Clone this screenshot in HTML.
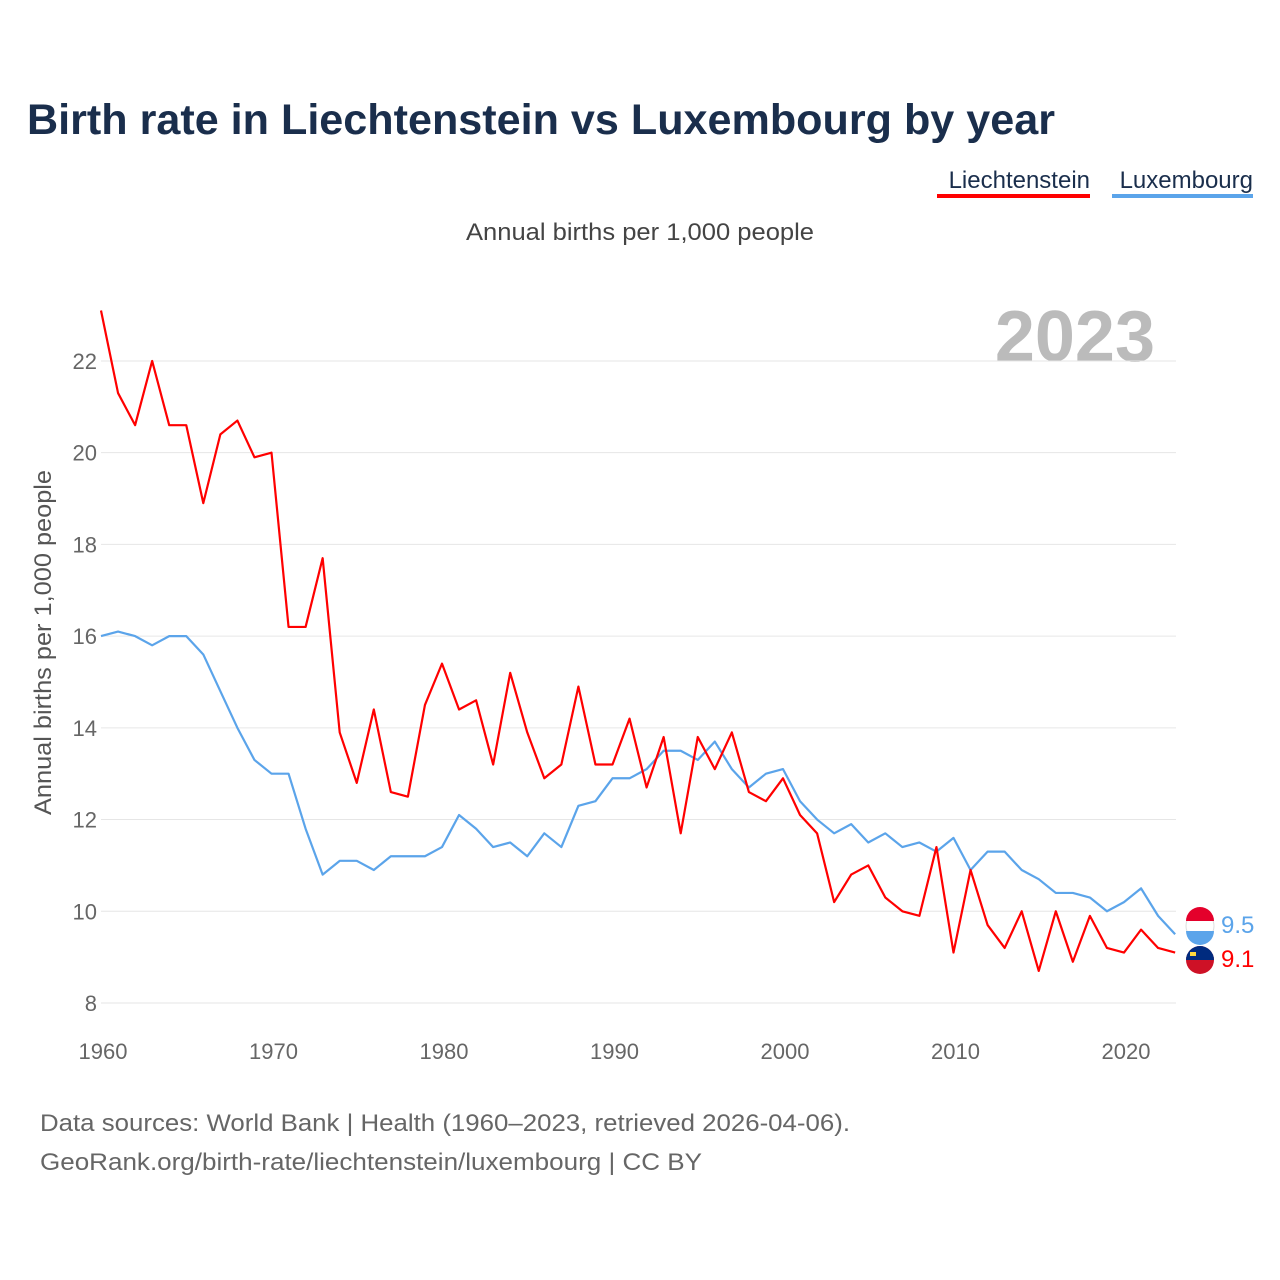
<!DOCTYPE html>
<html><head><meta charset="utf-8"><style>
body{margin:0;background:#fff;font-family:"Liberation Sans",sans-serif;}
svg{display:block}
</style></head><body>
<svg id="chart" width="1280" height="1280" viewBox="0 0 1280 1280">
<text x="27" y="134" font-size="43" font-weight="bold" fill="#1a2e4c" textLength="1028" lengthAdjust="spacingAndGlyphs">Birth rate in Liechtenstein vs Luxembourg by year</text>
<g>
<text x="1090" y="188" font-size="24" fill="#1a2e4c" text-anchor="end">Liechtenstein</text>
<rect x="937" y="194" width="153" height="4" fill="#f00"/>
<text x="1253" y="188" font-size="24" fill="#1a2e4c" text-anchor="end">Luxembourg</text>
<rect x="1112" y="194" width="141" height="4" fill="#5ba4ea"/>
</g>
<text x="466" y="240" font-size="24" fill="#444" textLength="348" lengthAdjust="spacingAndGlyphs">Annual births per 1,000 people</text>
<text x="1155" y="361" font-size="72" font-weight="bold" fill="#bbb" text-anchor="end">2023</text>
<text transform="translate(51,815) rotate(-90)" font-size="24" fill="#555" textLength="345" lengthAdjust="spacingAndGlyphs">Annual births per 1,000 people</text>
<g id="grid"></g><g id="lines"></g>
<g>
<circle cx="1200" cy="926" r="14" fill="#fff" stroke="#ddd"/>
<path d="M1186 921 h28 a14 14 0 0 0 -28 0z" fill="#e4002b"/>
<path d="M1186 931 h28 a14 14 0 0 1 -28 0z" fill="#5ba4ea"/>
<circle cx="1200" cy="960" r="14" fill="#ce1126"/>
<path d="M1186 960 h28 a14 14 0 0 0 -28 0z" fill="#002b7f"/>
<rect x="1190" y="952" width="6" height="4" fill="#ffd83d"/>
<text x="1221" y="933" font-size="24" fill="#5ba4ea">9.5</text>
<text x="1221" y="967" font-size="24" fill="#f00">9.1</text>
</g>
<text x="40" y="1131" font-size="24" fill="#666" textLength="810" lengthAdjust="spacingAndGlyphs">Data sources: World Bank | Health (1960–2023, retrieved 2026-04-06).</text>
<text x="40" y="1170" font-size="24" fill="#666" textLength="662" lengthAdjust="spacingAndGlyphs">GeoRank.org/birth-rate/liechtenstein/luxembourg | CC BY</text>
</svg>
<script>
const startYear = 1960;
const yTicks = [8,10,12,14,16,18,20,22];
const xTicks = [1960,1970,1980,1990,2000,2010,2020];
const liechtenstein = [23.1,21.3,20.6,22.0,20.6,20.6,18.9,20.4,20.7,19.9,20.0,16.2,16.2,17.7,13.9,12.8,14.4,12.6,12.5,14.5,15.4,14.4,14.6,13.2,15.2,13.9,12.9,13.2,14.9,13.2,13.2,14.2,12.7,13.8,11.7,13.8,13.1,13.9,12.6,12.4,12.9,12.1,11.7,10.2,10.8,11.0,10.3,10.0,9.9,11.4,9.1,10.9,9.7,9.2,10.0,8.7,10.0,8.9,9.9,9.2,9.1,9.6,9.2,9.1];
const luxembourg = [16.0,16.1,16.0,15.8,16.0,16.0,15.6,14.8,14.0,13.3,13.0,13.0,11.8,10.8,11.1,11.1,10.9,11.2,11.2,11.2,11.4,12.1,11.8,11.4,11.5,11.2,11.7,11.4,12.3,12.4,12.9,12.9,13.1,13.5,13.5,13.3,13.7,13.1,12.7,13.0,13.1,12.4,12.0,11.7,11.9,11.5,11.7,11.4,11.5,11.3,11.6,10.9,11.3,11.3,10.9,10.7,10.4,10.4,10.3,10.0,10.2,10.5,9.9,9.5];
const X = yr => 101 + (yr-1960)*17.05;
const Y = v => 1003 - (v-8)*45.86;
const NS = "http://www.w3.org/2000/svg";
const grid = document.getElementById('grid'), lines = document.getElementById('lines');
yTicks.forEach(t=>{
  const l=document.createElementNS(NS,'line');
  l.setAttribute('x1',101);l.setAttribute('x2',1176);l.setAttribute('y1',Y(t));l.setAttribute('y2',Y(t));
  l.setAttribute('stroke','#e6e6e6');
  
  
  grid.appendChild(l);
  const tx=document.createElementNS(NS,'text');
  tx.setAttribute('x',97);tx.setAttribute('y',Y(t)+8);tx.setAttribute('text-anchor','end');
  tx.setAttribute('font-size','22');tx.setAttribute('fill','#666');tx.textContent=t;
  
  
  grid.appendChild(tx);
});
xTicks.forEach(t=>{
  const tx=document.createElementNS(NS,'text');
  tx.setAttribute('x',X(t)+2);tx.setAttribute('y',1059);tx.setAttribute('text-anchor','middle');
  tx.setAttribute('font-size','22');tx.setAttribute('fill','#666');tx.textContent=t;
  
  
  grid.appendChild(tx);
});
function drawLine(data,color,name){
  const p=document.createElementNS(NS,'polyline');
  p.setAttribute('points',data.map((v,i)=>X(startYear+i)+','+Y(v)).join(' '));
  p.setAttribute('fill','none');p.setAttribute('stroke',color);p.setAttribute('stroke-width','2.2');
  p.setAttribute('stroke-linejoin','round');
  
  
  lines.appendChild(p);
}
drawLine(luxembourg,'#5ba4ea','luxembourg-line');
drawLine(liechtenstein,'#f00','liechtenstein-line');
</script>
</body></html>
